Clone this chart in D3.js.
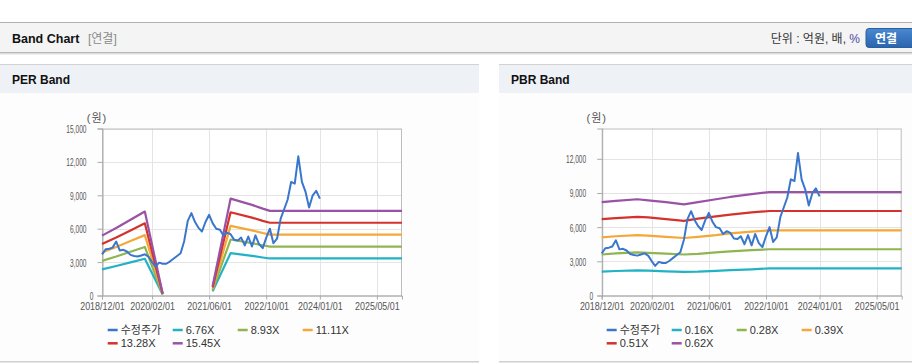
<!DOCTYPE html>
<html><head><meta charset="utf-8">
<script src="https://cdn.jsdelivr.net/npm/d3@7"></script>
<style>
html,body{margin:0;padding:0;background:#fff;}
svg{display:block;font-family:"Liberation Sans","Noto Sans CJK KR",sans-serif;}
</style></head><body>
<svg id="c" width="912" height="364"></svg>
<script>
// ---------- DATA ----------
const priceDates = ["2018-12","2019-01","2019-02","2019-03","2019-04","2019-05","2019-06","2019-07","2019-08","2019-09","2019-10","2019-11",
"2019-12","2020-01","2020-02","2020-03","2020-04","2020-05","2020-06","2020-07","2020-08","2020-09","2020-10","2020-11",
"2020-12","2021-01","2021-02","2021-03","2021-04","2021-05","2021-06","2021-07","2021-08","2021-09","2021-10","2021-11",
"2021-12","2022-01","2022-02","2022-03","2022-04","2022-05","2022-06","2022-07","2022-08","2022-09","2022-10","2022-11",
"2022-12","2023-01","2023-02","2023-03","2023-04","2023-05","2023-06","2023-07","2023-08","2023-09","2023-10","2023-11",
"2023-12","2024-01"];
const priceValues = [3700,4150,4200,4300,4850,4050,4100,3950,3650,3550,3500,3600,
3700,3500,3000,2600,2950,2850,2850,3050,3300,3550,3800,4900,
6700,7400,6600,6100,5750,6600,7250,6500,6000,5900,5400,5650,
5500,5000,4950,5200,4500,5300,4400,5400,4600,4250,5200,6000,
4700,5100,6900,7700,8600,10200,10050,12500,10200,9300,7900,9000,
9400,8700];

const perBandDates = ["2018-12","2019-04","2019-08","2019-12","2020-05","2020-06","2021-07","2021-12","2022-06","2022-09","2022-11","2025-12"];
const per676  = [2352,2650,2974,3299, 81,null,372,3806,3563,3414,3326,3326];
const per893  = [3108,3501,3929,4358,107,null,491,5028,4706,4510,4394,4394];
const per1111 = [3866,4355,4888,5422,133,null,611,6255,5855,5611,5466,5466];
const per1328 = [4621,5206,5843,6481,159,null,730,7477,6999,6706,6534,6534];
const per1545 = [5377,6056,6798,7540,185,null,850,8698,8142,7802,7601,7601];

const pbrBandDates = ["2018-12","2019-04","2019-10","2020-01","2020-06","2020-11","2021-03","2021-08","2021-12","2022-06","2022-11","2025-12"];
const pbr016 = [2100,2150,2200,2180,2120,2080,2100,2170,2230,2300,2380,2380];
const pbr028 = [3600,3700,3780,3750,3680,3600,3650,3780,3880,3980,4060,4060];
const pbr039 = [5100,5200,5300,5250,5150,5050,5150,5300,5450,5600,5720,5720];
const pbr051 = [6700,6800,6900,6850,6700,6550,6750,6950,7100,7300,7420,7420];
const pbr062 = [8200,8300,8450,8350,8200,8000,8200,8450,8650,8900,9080,9080];

const perLegend = ["수정주가","6.76X","8.93X","11.11X","13.28X","15.45X"];
const pbrLegend = ["수정주가","0.16X","0.28X","0.39X","0.51X","0.62X"];
const seriesColors = ["#3a77cc","#22b2c4","#8fb552","#f3a838","#d3322d","#9a52a5"];

const xTickLabels = ["2018/12/01","2020/02/01","2021/06/01","2022/10/01","2024/01/01","2025/05/01"];
const perYTicks = [0,3000,6000,9000,12000,15000];
const pbrYTicks = [0,3000,6000,9000,12000];
const xDomain = ["2018-12-01","2025-12-01"];

// ---------- DRAW ----------
const W = 912;
const svg = d3.select("#c");
const pm = d3.utcParse("%Y-%m");
const pd = d3.utcParse("%Y-%m-%d");
const pt = d3.utcParse("%Y/%m/%d");

// page header
svg.append("rect").attr("x",0).attr("y",22).attr("width",W).attr("height",1).attr("fill","#b0b0b0");
svg.append("rect").attr("x",0).attr("y",23).attr("width",W).attr("height",29).attr("fill","#f4f4f4");
svg.append("rect").attr("x",0).attr("y",52).attr("width",W).attr("height",1).attr("fill","#b8b8b8");
svg.append("rect").attr("x",0).attr("y",53).attr("width",W).attr("height",1).attr("fill","#dedede");
svg.append("rect").attr("x",0).attr("y",54).attr("width",W).attr("height",1).attr("fill","#efefef");
svg.append("text").attr("x",12).attr("y",42.5).attr("font-size","12.5px").attr("font-weight","bold").attr("fill","#111").text("Band Chart");
svg.append("text").attr("x",88).attr("y",42.5).attr("font-size","12px").attr("fill","#8a8a8a").text("[연결]");
const unit = svg.append("text").attr("x",860).attr("y",42.5).attr("text-anchor","end").attr("font-size","12px").attr("fill","#333");
unit.append("tspan").text("단위 : 억원, 배, ");
unit.append("tspan").attr("fill","#4b4ba0").text("%");
const defs = svg.append("defs");
const g1 = defs.append("linearGradient").attr("id","btn").attr("x1",0).attr("y1",0).attr("x2",0).attr("y2",1);
g1.append("stop").attr("offset","0%").attr("stop-color","#4a88d2");
g1.append("stop").attr("offset","100%").attr("stop-color","#2a64ae");
svg.append("rect").attr("x",866).attr("y",28.5).attr("width",52).attr("height",19).attr("rx",3).attr("fill","url(#btn)").attr("stroke","#2a5f9e");
svg.append("text").attr("x",886).attr("y",42.5).attr("text-anchor","middle").attr("font-size","12px").attr("font-weight","bold").attr("fill","#fff").text("연결");

function drawPanel(cfg){
  const g = svg.append("g");
  // panel header
  g.append("rect").attr("x",cfg.x0).attr("y",64).attr("width",cfg.x1-cfg.x0).attr("height",1).attr("fill","#d2d2d2");
  g.append("rect").attr("x",cfg.x0).attr("y",65).attr("width",cfg.x1-cfg.x0).attr("height",28).attr("fill","#eef2f7");
  g.append("rect").attr("x",cfg.x0).attr("y",93).attr("width",cfg.x1-cfg.x0).attr("height",268).attr("fill","#fdfdfd");
  g.append("rect").attr("x",cfg.x0).attr("y",361).attr("width",cfg.x1-cfg.x0).attr("height",1.5).attr("fill","#d0d0d0");
  g.append("text").attr("x",cfg.x0+12).attr("y",84).attr("font-size","12px").attr("font-weight","bold").attr("fill","#111").text(cfg.title);

  const L = cfg.left, R = cfg.right, T = 128.5, B = 295.5;
  const x = d3.scaleUtc().domain(xDomain.map(pd)).range([L,R]);
  const y = d3.scaleLinear().domain([0,cfg.yMax]).range([B,T]);
  g.append("rect").attr("x",L).attr("y",T).attr("width",R-L).attr("height",B-T).attr("fill","#fff");

  // grid
  const xt = xTickLabels.map(pt);
  g.selectAll(".vg").data(xt.slice(1)).enter().append("line")
    .attr("x1",d=>Math.round(x(d))+0.5).attr("x2",d=>Math.round(x(d))+0.5).attr("y1",T).attr("y2",B)
    .attr("stroke","#e4e4e4");
  g.selectAll(".hg").data(cfg.yTicks.slice(1)).enter().append("line")
    .attr("x1",L).attr("x2",R).attr("y1",d=>Math.round(y(d))+0.5).attr("y2",d=>Math.round(y(d))+0.5)
    .attr("stroke","#e4e4e4");
  g.append("rect").attr("x",L+0.5).attr("y",T+0.5).attr("width",R-L-1).attr("height",B-T).attr("fill","none").attr("stroke","#bdbdbd");

  // axes
  const ya = g.append("g").attr("transform",`translate(${L+0.5},0)`)
    .call(d3.axisLeft(y).tickValues(cfg.yTicks).tickSize(5).tickFormat(d3.format(",")));
  ya.select(".domain").attr("stroke","#aaa");
  ya.selectAll(".tick line").attr("stroke","#aaa");
  ya.selectAll(".tick text").attr("x",0).attr("dy","0.36em").attr("fill","#555").attr("font-size","11px")
    .attr("font-family","Liberation Sans")
    .attr("transform",d=>`translate(${d===0?-9:-16},0) scale(0.6,1)`);

  const xa = g.append("g").attr("transform",`translate(0,${B})`)
    .call(d3.axisBottom(x).tickValues(xt).tickSize(4).tickFormat(d3.utcFormat("%Y/%m/%d")));
  xa.select(".domain").attr("stroke","#aaa");
  xa.selectAll(".tick line").attr("stroke","#aaa");
  xa.selectAll(".tick text").attr("y",7.5).attr("fill","#555").attr("font-size","10.5px")
    .attr("font-family","Liberation Sans").attr("transform","scale(0.85,1)");

  g.append("text").attr("x",L-5).attr("y",121.5).attr("text-anchor","middle").attr("font-size","11px")
    .attr("letter-spacing","1px").attr("fill","#555").text("(원)");

  const line = d3.line().defined(d=>d.v!=null).x(d=>x(d.d)).y(d=>y(d.v));
  cfg.bands.forEach((vals,i)=>{
    const data = cfg.bandDates.map((d,k)=>({d:pm(d),v:vals[k]}));
    g.append("path").datum(data).attr("d",line).attr("fill","none")
      .attr("stroke",seriesColors[i+1]).attr("stroke-width",2.2).attr("stroke-linejoin","round");
  });
  const pdata = priceDates.map((d,k)=>({d:pm(d),v:priceValues[k]}));
  g.append("path").datum(pdata).attr("d",line).attr("fill","none")
    .attr("stroke",seriesColors[0]).attr("stroke-width",2).attr("stroke-linejoin","round");

  // legend
  cfg.legend.forEach((name,i)=>{
    const lx = cfg.legendX + (i%4)*65, ly = 330 + Math.floor(i/4)*13.3;
    g.append("line").attr("x1",lx).attr("x2",lx+10).attr("y1",ly).attr("y2",ly)
      .attr("stroke",seriesColors[i]).attr("stroke-width",2.5);
    g.append("text").attr("x",lx+13).attr("y",ly+4).attr("font-size","11px").attr("fill","#333").text(name);
  });
}

drawPanel({x0:0,x1:479,title:"PER Band",left:102,right:402,yMax:15000,yTicks:perYTicks,
  bandDates:perBandDates,bands:[per676,per893,per1111,per1328,per1545],legend:perLegend,legendX:107.7});
drawPanel({x0:499,x1:912,title:"PBR Band",left:601.7,right:901.7,yMax:14660,yTicks:pbrYTicks,
  bandDates:pbrBandDates,bands:[pbr016,pbr028,pbr039,pbr051,pbr062],legend:pbrLegend,legendX:606.7});
</script>
</body></html>
